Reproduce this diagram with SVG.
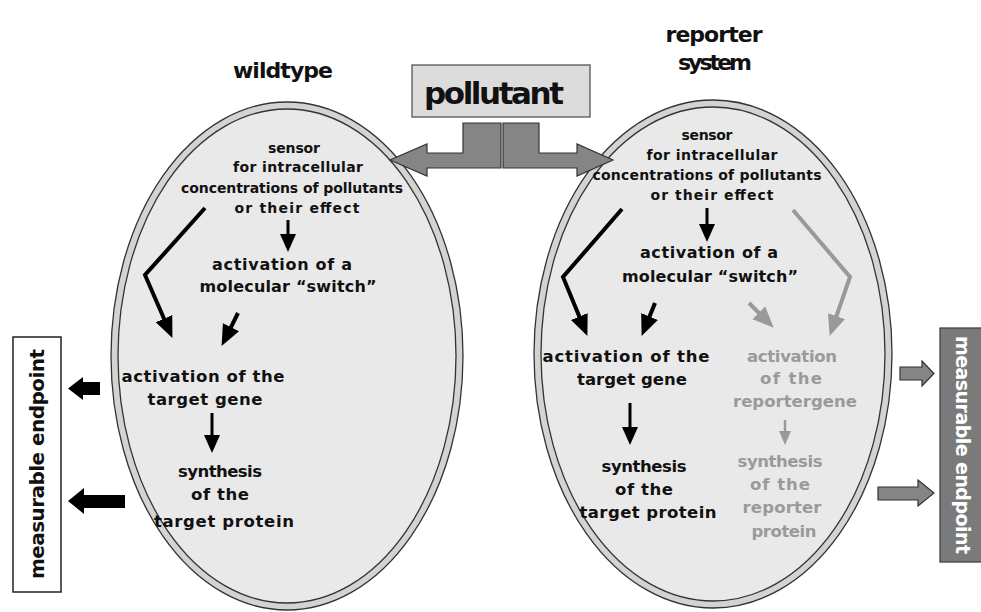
<svg xmlns="http://www.w3.org/2000/svg" width="981" height="612" viewBox="0 0 981 612">
<style>
text{font-family:"DejaVu Sans","Liberation Sans",sans-serif;font-weight:bold;text-anchor:middle;fill:#111}
.s{font-size:14px}
.m{font-size:16px}
.l{font-size:16.5px}
.t{font-size:22px}
.g{fill:#9a9a9a}
.cellout{fill:#d3d3d3;stroke:#333;stroke-width:1.3}
.cellin{fill:#e9e9e9;stroke:#333;stroke-width:1.3}
.ar{fill:none;stroke:#000;stroke-width:4;stroke-linejoin:miter}
.arg{fill:none;stroke:#999;stroke-width:4}
.block{fill:#000}
.gblock{fill:#858585;stroke:#333;stroke-width:1.2}
</style>
<defs>
<marker id="ah" markerUnits="userSpaceOnUse" markerWidth="22" markerHeight="20" refX="8" refY="10" orient="auto"><path d="M0,1 L21,10 L0,19 z" fill="#000"/></marker>
<marker id="ahs" markerUnits="userSpaceOnUse" markerWidth="20" markerHeight="18" refX="6" refY="9" orient="auto"><path d="M0,1 L18,9 L0,17 z" fill="#000"/></marker>
<marker id="ahg" markerUnits="userSpaceOnUse" markerWidth="22" markerHeight="20" refX="8" refY="10" orient="auto"><path d="M0,1 L21,10 L0,19 z" fill="#999"/></marker>
<marker id="ahgs" markerUnits="userSpaceOnUse" markerWidth="16" markerHeight="14" refX="5" refY="7" orient="auto"><path d="M0,1 L14,7 L0,13 z" fill="#999"/></marker>
</defs>
<rect width="981" height="612" fill="#fff"/>

<g id="wildtype-cell">
<ellipse class="cellout" cx="287" cy="356" rx="176" ry="254"/>
<ellipse class="cellin" cx="287" cy="356" rx="169" ry="247"/>
</g>
<g id="reporter-cell">
<ellipse class="cellout" cx="713" cy="354" rx="179" ry="254"/>
<ellipse class="cellin" cx="713" cy="354" rx="172" ry="247"/>
</g>

<g id="title-wildtype"><text class="t" x="283" y="78" textLength="100">wildtype</text></g>
<g id="title-reporter"><text class="t" x="714" y="42" textLength="97">reporter</text><text class="t" x="715" y="70" textLength="74">system</text></g>

<g id="pollutant">
<rect x="412" y="65" width="178" height="52" fill="#dcdcdc" stroke="#555" stroke-width="1.3"/>
<text x="494" y="104" style="font-size:31px" textLength="140">pollutant</text>
</g>

<g id="wt-sensor">
<text class="s" x="294" y="153" textLength="52">sensor</text>
<text class="s" x="298" y="172" textLength="130">for intracellular</text>
<text class="s" x="292" y="193" textLength="222">concentrations of pollutants</text>
<text class="s" x="297" y="213" textLength="125">or their effect</text>
</g>
<g id="wt-switch">
<text class="m" x="282" y="270" textLength="140">activation of a</text>
<text class="m" x="288" y="292" textLength="177">molecular “switch”</text>
</g>
<g id="wt-gene">
<text class="l" x="203" y="382" textLength="163">activation of the</text>
<text class="l" x="205" y="405" textLength="115">target gene</text>
</g>
<g id="wt-protein">
<text class="l" x="220" y="477" textLength="84">synthesis</text>
<text class="l" x="220" y="500" textLength="58">of the</text>
<text class="l" x="224" y="527" textLength="140">target protein</text>
</g>

<g id="rp-sensor">
<text class="s" x="707" y="140" textLength="51">sensor</text>
<text class="s" x="712" y="160" textLength="131">for intracellular</text>
<text class="s" x="707" y="180" textLength="229">concentrations of pollutants</text>
<text class="s" x="712" y="200" textLength="123">or their effect</text>
</g>
<g id="rp-switch">
<text class="m" x="709" y="258" textLength="138">activation of a</text>
<text class="m" x="710" y="282" textLength="176">molecular “switch”</text>
</g>
<g id="rp-gene">
<text class="l" x="626" y="362" textLength="167">activation of the</text>
<text class="l" x="632" y="385" textLength="110">target gene</text>
</g>
<g id="rp-protein">
<text class="l" x="644" y="472" textLength="85">synthesis</text>
<text class="l" x="644" y="495" textLength="58">of the</text>
<text class="l" x="648" y="518" textLength="137">target protein</text>
</g>
<g id="rp-reportergene">
<text class="l g" x="792" y="362" textLength="90">activation</text>
<text class="l g" x="791" y="384" textLength="62">of the</text>
<text class="l g" x="795" y="407" textLength="124">reportergene</text>
</g>
<g id="rp-reporterprotein">
<text class="l g" x="780" y="467" textLength="85">synthesis</text>
<text class="l g" x="780" y="490" textLength="60">of the</text>
<text class="l g" x="782" y="513" textLength="79">reporter</text>
<text class="l g" x="784" y="537" textLength="65">protein</text>
</g>

<g id="endpoint-left">
<rect x="13" y="337" width="48" height="255" fill="#fff" stroke="#222" stroke-width="1.5"/>
<text transform="translate(44,464) rotate(-90)" x="0" y="0" style="font-size:20px" textLength="230">measurable endpoint</text>
</g>
<g id="endpoint-right">
<rect x="940" y="328" width="45" height="234" fill="#7a7a7a" stroke="#444" stroke-width="1.3"/>
<text transform="translate(956,445) rotate(90)" x="0" y="0" style="font-size:19px;fill:#fff" textLength="218">measurable endpoint</text>
</g>

<g id="connectors">
<polygon class="gblock" points="463,123 501,123 501,168 427,168 427,176 390,160 427,144 427,153 463,153"/>
<polygon class="gblock" points="503,123 539,123 539,153 577,153 577,144 613,160 577,176 577,168 503,168"/>
<polyline class="ar" points="205,208 145,275 167.2,326" marker-end="url(#ah)"/>
<line class="ar" x1="238" y1="313" x2="227.4" y2="334.3" marker-end="url(#ah)"/>
<line class="ar" style="stroke-width:3" x1="288" y1="220" x2="288" y2="240" marker-end="url(#ahs)"/>
<line class="ar" style="stroke-width:3" x1="212" y1="413" x2="212" y2="441" marker-end="url(#ahs)"/>
<polyline class="ar" points="622,209 563,277 582.4,323.9" marker-end="url(#ah)"/>
<line class="ar" x1="655" y1="303" x2="646.5" y2="323.9" marker-end="url(#ah)"/>
<line class="ar" style="stroke-width:3" x1="707" y1="208" x2="707" y2="230" marker-end="url(#ahs)"/>
<line class="ar" style="stroke-width:3" x1="630" y1="403" x2="630" y2="433" marker-end="url(#ahs)"/>
<line class="arg" x1="749" y1="303" x2="764.5" y2="318.5" marker-end="url(#ahg)"/>
<polyline class="arg" points="793,210 850,277 833.9,323.7" marker-end="url(#ahg)"/>
<line class="arg" style="stroke-width:2.5" x1="785" y1="420" x2="785" y2="436" marker-end="url(#ahgs)"/>
<polygon class="block" points="100,382 83,382 83,377 68,388.5 83,400 83,395 100,395"/>
<polygon class="block" points="125,495 84,495 84,488 68,501 84,514 84,508 125,508"/>
<polygon class="gblock" points="900,367 922,367 922,361 934,373.5 922,386 922,380 900,380"/>
<polygon class="gblock" points="878,487 918,487 918,480 934,493 918,506 918,500 878,500"/>
</g>
</svg>
